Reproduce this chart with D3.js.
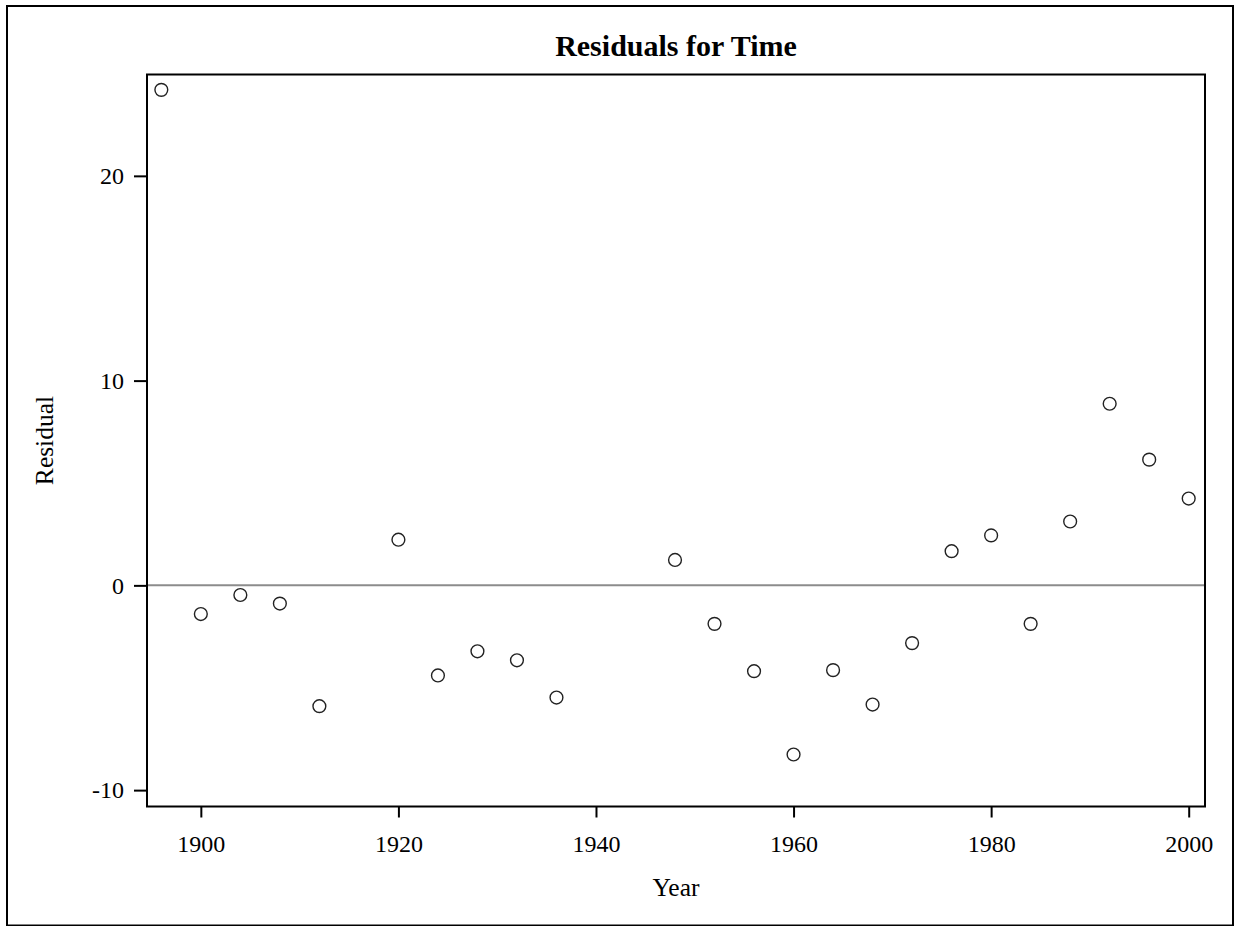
<!DOCTYPE html>
<html>
<head>
<meta charset="utf-8">
<script src="https://cdn.jsdelivr.net/npm/d3@7"></script>
<style>
  body { margin: 0; background: #fff; }
  svg { display: block; font-family: "Liberation Serif", "Times New Roman", serif; }
</style>
</head>
<body>
<div id="chart"></div>
<script>
// Residuals by Olympic year (no games in 1916, 1940, 1944)
const years = [1896, 1900, 1904, 1908, 1912, 1920, 1924, 1928, 1932, 1936,
  1948, 1952, 1956, 1960, 1964, 1968, 1972, 1976, 1980, 1984, 1988, 1992, 1996, 2000];
const residuals = [24.2, -1.40, -0.47, -0.89, -5.90, 2.23, -4.40, -3.22, -3.66, -5.48,
  1.24, -1.88, -4.19, -8.26, -4.14, -5.82, -2.82, 1.67, 2.44, -1.88, 3.12, 8.87, 6.14, 4.24];
const xTicks = [1900, 1920, 1940, 1960, 1980, 2000];
const yTicks = [-10, 0, 10, 20];

const width = 1235, height = 926;
const margin = { top: 74.5, right: 30, bottom: 119.5, left: 147 };

const svg = d3.select("#chart").append("svg")
  .attr("width", width)
  .attr("height", height);

// outer frame
svg.append("rect")
  .attr("x", 7).attr("y", 6)
  .attr("width", 1226).attr("height", 919.5)
  .attr("fill", "none")
  .attr("stroke", "#000")
  .attr("stroke-width", 2);

const x = d3.scaleLinear()
  .domain([1894.55, 2001.65])
  .range([margin.left, width - margin.right]);

const y = d3.scaleLinear()
  .domain([-10.8, 24.95])
  .range([height - margin.bottom, margin.top]);

// zero reference line
svg.append("line")
  .attr("x1", x.range()[0]).attr("x2", x.range()[1])
  .attr("y1", y(0)).attr("y2", y(0))
  .attr("stroke", "#8c8c8c")
  .attr("stroke-width", 2);

// points
svg.append("g")
  .selectAll("circle")
  .data(years.map((yr, i) => ({ year: yr, r: residuals[i] })))
  .join("circle")
  .attr("cx", d => x(d.year))
  .attr("cy", d => y(d.r))
  .attr("r", 6.4)
  .attr("fill", "none")
  .attr("stroke", "#222")
  .attr("stroke-width", 1.4);

// axes
const xAxis = svg.append("g")
  .attr("transform", `translate(0,${height - margin.bottom})`)
  .call(d3.axisBottom(x).tickValues(xTicks).tickFormat(d => String(d)).tickSize(11).tickSizeOuter(0));

const yAxis = svg.append("g")
  .attr("transform", `translate(${margin.left},0)`)
  .call(d3.axisLeft(y).tickValues(yTicks).tickFormat(d => String(d)).tickSize(13).tickSizeOuter(0));

[xAxis, yAxis].forEach(g => {
  g.select(".domain").remove();
  g.selectAll(".tick line").attr("stroke", "#000").attr("stroke-width", 2);
  g.selectAll(".tick text")
    .attr("fill", "#000")
    .style("font-family", "Liberation Serif, serif")
    .style("font-size", "24px");
});
xAxis.selectAll(".tick text").attr("y", 0).attr("dy", null)
  .attr("transform", "translate(0,45)");
yAxis.selectAll(".tick text").attr("x", -23).attr("dy", "0.32em");

// plot frame
svg.append("rect")
  .attr("x", margin.left).attr("y", margin.top)
  .attr("width", width - margin.right - margin.left)
  .attr("height", height - margin.bottom - margin.top)
  .attr("fill", "none")
  .attr("stroke", "#000")
  .attr("stroke-width", 2);

// title
svg.append("text")
  .attr("x", (x.range()[0] + x.range()[1]) / 2)
  .attr("y", 56)
  .attr("text-anchor", "middle")
  .style("font-size", "30px")
  .style("font-weight", "bold")
  .text("Residuals for Time");

// axis labels
svg.append("text")
  .attr("x", (x.range()[0] + x.range()[1]) / 2)
  .attr("y", 896)
  .attr("text-anchor", "middle")
  .style("font-size", "25.5px")
  .text("Year");

svg.append("text")
  .attr("transform", `translate(53,${(y.range()[0] + y.range()[1]) / 2}) rotate(-90)`)
  .attr("text-anchor", "middle")
  .style("font-size", "25.5px")
  .text("Residual");
</script>
</body>
</html>
